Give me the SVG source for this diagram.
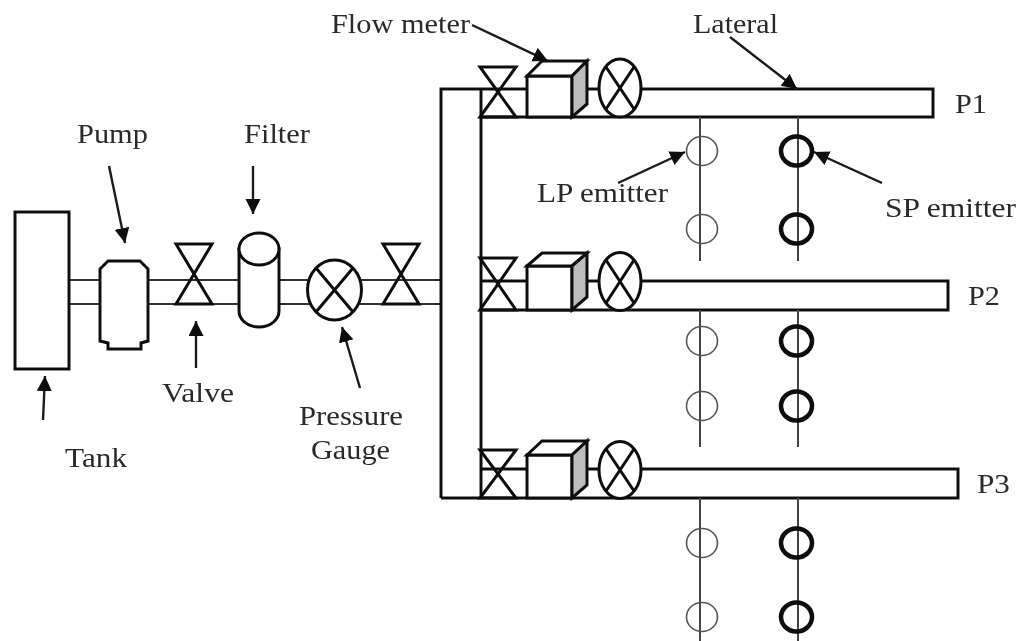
<svg xmlns="http://www.w3.org/2000/svg" width="1019" height="641" viewBox="0 0 1019 641">
<style>
.s{fill:none;stroke:#111;stroke-width:3;stroke-linejoin:miter}
.w{fill:#fff;stroke:#111;stroke-width:3}
.p{fill:none;stroke:#333;stroke-width:2}
.t{fill:none;stroke:#111;stroke-width:3}
.a{fill:none;stroke:#1a1a1a;stroke-width:2.4;marker-end:url(#h)}
.st{fill:none;stroke:#444;stroke-width:2}
.lp{fill:none;stroke:#555;stroke-width:1.6}
.sp{fill:none;stroke:#0a0a0a;stroke-width:4.5}
.g{fill:#bdbdbd;stroke:#111;stroke-width:3}
text{font-family:"Liberation Serif","Times New Roman",serif;font-size:27px;fill:#2a2a2a}
</style>
<defs>
<marker id="h" markerUnits="userSpaceOnUse" markerWidth="17" markerHeight="16" refX="15" refY="7.500" orient="auto"><path d="M0,0L15,7.500L0,15Z" fill="#111"/></marker>
<filter id="soft" x="0" y="0" width="100%" height="100%" filterUnits="userSpaceOnUse"><feGaussianBlur stdDeviation="0.55"/></filter>
</defs>
<rect width="1019" height="641" fill="#fff"/>
<g filter="url(#soft)">
<g id="connectors">
<path class="p" d="M69,280H441M69,304H441"/>
<path class="t" d="M441,498V89H527M481,89V498M481,117H933V89H641M481,281H527M481,310H948V281H641M481,469H527M441,498H958V469H641M587,89H599M587,281H599M587,469H599"/>
<path class="st" d="M700,117V261M798,117V261M700,310V447M798,310V447M700,498V641M798,498V641"/>
<path class="a" d="M472,25L548,61"/>
<path class="a" d="M730,37L797,89"/>
<path class="a" d="M618,183L685,152"/>
<path class="a" d="M882,183L814,152"/>
<path class="a" d="M109,166L125,243"/>
<path class="a" d="M253,166V214"/>
<path class="a" d="M196,368V321"/>
<path class="a" d="M360,388L342,327"/>
<path class="a" d="M43,420L45,376"/>
</g>
<g id="tank"><rect class="w" x="15" y="212" width="54" height="157"/></g>
<g id="pump"><path class="w" d="M108,261H140L148,269V341L141,343V349H108V343L100,341V269Z"/></g>
<g id="valve-main-1"><path class="s" d="M176,244H212L176,304H212Z"/></g>
<g id="filter"><path class="w" d="M239,249V311A20,16 0 0 0 279,311V249Z"/><ellipse class="w" cx="259" cy="249" rx="20" ry="16"/></g>
<g id="pressure-gauge"><ellipse class="w" cx="334.500" cy="290" rx="27" ry="30"/><path class="s" d="M316,268L353,312M353,268L316,312"/></g>
<g id="valve-main-2"><path class="s" d="M383,244H419L383,304H419Z"/></g>
<g id="p1-valve"><path class="s" d="M480,67H516L480,117H516Z"/></g>
<g id="p1-meter"><rect class="w" x="527" y="76" width="45" height="41"/><path class="w" d="M527,76L542,61H587L572,76Z"/><path class="g" d="M572,76L587,61V104L572,117Z"/></g>
<g id="p1-gauge"><ellipse class="w" cx="620" cy="88" rx="21" ry="29"/><path class="s" d="M606,67L634,109M634,67L606,109"/></g>
<g id="p2-valve"><path class="s" d="M480,258H516L480,310H516Z"/></g>
<g id="p2-meter"><rect class="w" x="527" y="266" width="45" height="44"/><path class="w" d="M527,266L542,253H587L572,266Z"/><path class="g" d="M572,266L587,253V297L572,310Z"/></g>
<g id="p2-gauge"><ellipse class="w" cx="620" cy="281.500" rx="21" ry="29"/><path class="s" d="M606,260L634,303M634,260L606,303"/></g>
<g id="p3-valve"><path class="s" d="M480,450H516L480,498H516Z"/></g>
<g id="p3-meter"><rect class="w" x="527" y="455" width="45" height="43"/><path class="w" d="M527,455L542,441H587L572,455Z"/><path class="g" d="M572,455L587,441V485L572,498Z"/></g>
<g id="p3-gauge"><ellipse class="w" cx="620" cy="470" rx="21" ry="28.500"/><path class="s" d="M606,449L634,491M634,449L606,491"/></g>
<g id="emitters">
<ellipse class="lp" cx="702" cy="151" rx="15.500" ry="14.500"/><ellipse class="lp" cx="702" cy="229" rx="15.500" ry="14.500"/>
<ellipse class="lp" cx="702" cy="341" rx="15.500" ry="14.500"/><ellipse class="lp" cx="702" cy="406" rx="15.500" ry="14.500"/>
<ellipse class="lp" cx="702" cy="543" rx="15.500" ry="14.500"/><ellipse class="lp" cx="702" cy="617" rx="15.500" ry="14.500"/>
<ellipse class="sp" cx="796.500" cy="151" rx="15.500" ry="14.500"/><ellipse class="sp" cx="796.500" cy="229" rx="15.500" ry="14.500"/>
<ellipse class="sp" cx="796.500" cy="341" rx="15.500" ry="14.500"/><ellipse class="sp" cx="796.500" cy="406" rx="15.500" ry="14.500"/>
<ellipse class="sp" cx="796.500" cy="543" rx="15.500" ry="14.500"/><ellipse class="sp" cx="796.500" cy="617" rx="15.500" ry="14.500"/>
</g>
<g id="labels">
<text x="331" y="33" textLength="139" lengthAdjust="spacingAndGlyphs">Flow meter</text>
<text x="693" y="33" textLength="85" lengthAdjust="spacingAndGlyphs">Lateral</text>
<text x="955" y="113" textLength="32" lengthAdjust="spacingAndGlyphs">P1</text>
<text x="968" y="305" textLength="32" lengthAdjust="spacingAndGlyphs">P2</text>
<text x="977" y="493" textLength="33" lengthAdjust="spacingAndGlyphs">P3</text>
<text x="77" y="143" textLength="71" lengthAdjust="spacingAndGlyphs">Pump</text>
<text x="244" y="143" textLength="66" lengthAdjust="spacingAndGlyphs">Filter</text>
<text x="162" y="402" textLength="72" lengthAdjust="spacingAndGlyphs">Valve</text>
<text x="65" y="467" textLength="62" lengthAdjust="spacingAndGlyphs">Tank</text>
<text x="299" y="425" textLength="104" lengthAdjust="spacingAndGlyphs">Pressure</text>
<text x="311" y="459" textLength="79" lengthAdjust="spacingAndGlyphs">Gauge</text>
<text x="537" y="202" textLength="131" lengthAdjust="spacingAndGlyphs">LP emitter</text>
<text x="885" y="217" textLength="131" lengthAdjust="spacingAndGlyphs">SP emitter</text>
</g>
</g>
</svg>
